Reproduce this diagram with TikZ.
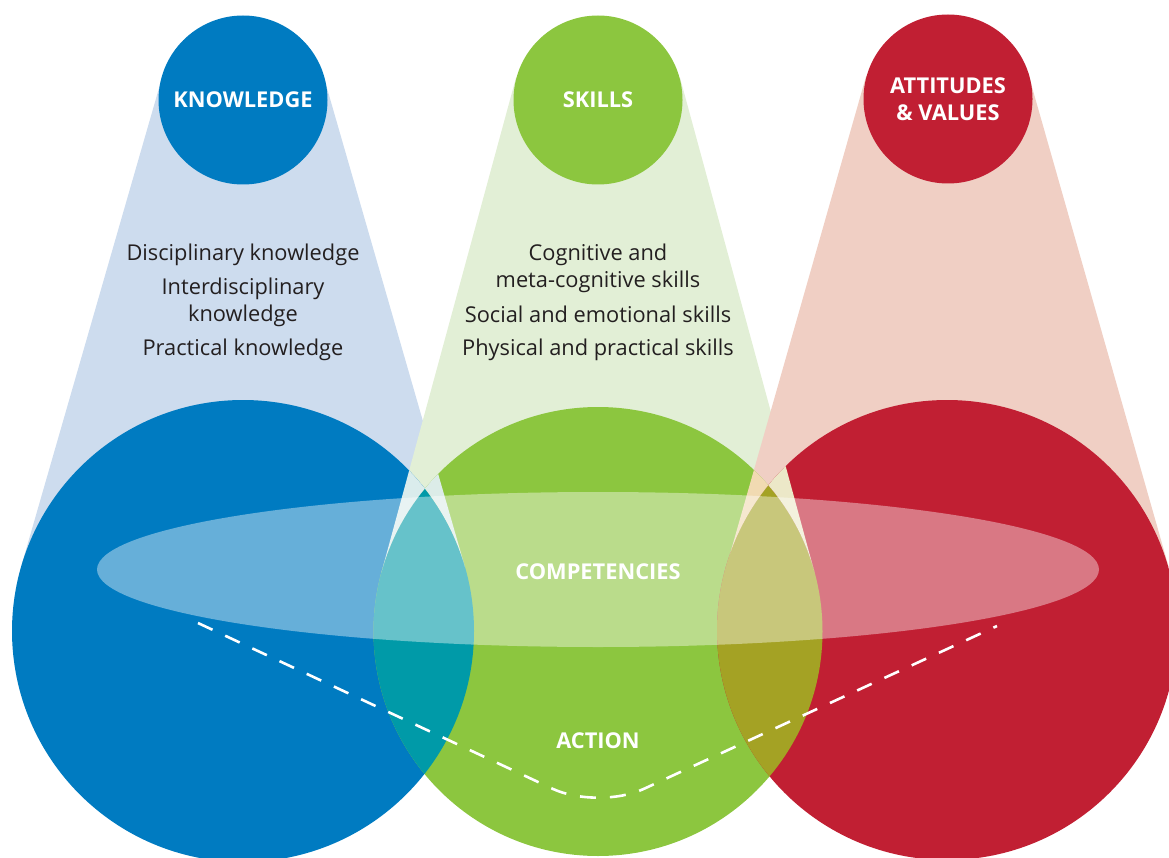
\documentclass[tikz,border=0pt]{standalone}
\usepackage{fontspec}
\setmainfont{Open Sans}
\definecolor{kblue}{RGB}{0,123,193}
\definecolor{sgreen}{RGB}{140,198,63}
\definecolor{avred}{RGB}{193,31,51}
\definecolor{kbluelt}{RGB}{205,220,238}
\definecolor{sgreenlt}{RGB}{226,239,214}
\definecolor{avredlt}{RGB}{240,207,196}
\definecolor{teal}{RGB}{0,154,168}
\definecolor{olive}{RGB}{164,162,36}
\definecolor{kons}{RGB}{220,236,232}
\definecolor{sonk}{RGB}{218,236,236}
\definecolor{sonav}{RGB}{236,232,200}
\definecolor{avons}{RGB}{241,218,178}
\definecolor{textgray}{RGB}{35,31,32}

\begin{document}
\begin{tikzpicture}[x=1pt,y=1pt,
  head/.style={text=white,font=\bfseries\fontsize{21.8}{27}\selectfont,align=center},
  item/.style={text=textgray,font=\fontsize{21.8}{27}\selectfont,align=center},
  small/.style={circle,minimum size=169,inner sep=0pt,head},
  outside/.style={insert path={(-10,10) -- (1180,10) -- (1180,-870) -- (-10,-870) -- cycle}}]
\useasboundingbox (0,0) rectangle (1169,-858);
\clip (0,0) rectangle (1169,-858);

\coordinate (kc) at (243,-631);
\coordinate (sc) at (598,-631.5);
\coordinate (avc) at (947,-630);

\fill[kbluelt] (162.3,-76.7) -- (323.7,-76.7) -- (465,-567.1) -- (21,-567.1) -- cycle;
\fill[sgreenlt] (516,-77.7) -- (680,-77.7) -- (814.6,-572.6) -- (381.4,-572.6) -- cycle;
\fill[avredlt] (866.2,-75.8) -- (1028.8,-75.8) -- (1168.7,-567) -- (726.3,-567) -- cycle;

\fill[kblue] (kc) circle (231);
\fill[sgreen] (sc) circle (224.5);
\fill[avred] (avc) circle (230);
\begin{scope}
  \clip (kc) circle (231);
  \fill[teal] (sc) circle (224.5);
\end{scope}
\begin{scope}
  \clip (avc) circle (230);
  \fill[olive] (sc) circle (224.5);
\end{scope}

\begin{scope}
  \clip (162.3,-76.7) -- (323.7,-76.7) -- (465,-567.1) -- (21,-567.1) -- cycle;
  \clip[outside] (kc) circle (231);
  \fill[kons] (sc) circle (224.5);
\end{scope}
\begin{scope}
  \clip (516,-77.7) -- (680,-77.7) -- (814.6,-572.6) -- (381.4,-572.6) -- cycle;
  \clip[outside] (sc) circle (224.5);
  \fill[sonk] (kc) circle (231);
  \fill[sonav] (avc) circle (230);
\end{scope}
\begin{scope}
  \clip (866.2,-75.8) -- (1028.8,-75.8) -- (1168.7,-567) -- (726.3,-567) -- cycle;
  \clip[outside] (avc) circle (230);
  \fill[avons] (sc) circle (224.5);
\end{scope}

\node[small,fill=kblue] (knowledge) at (243,-100) {\raisebox{-1.5pt}{KNOWLEDGE}};
\node[small,fill=sgreen] (skills) at (598,-100) {\raisebox{-1.5pt}{SKILLS}};
\node[small,fill=avred] (values) at (948,-99) {\raisebox{-1.5pt}{ATTITUDES}\\\raisebox{-1.5pt}{\& VALUES}};

\fill[white,fill opacity=.4] (598,-569.5) ellipse (501 and 77.5);

\draw[white,line width=2.6,dash pattern=on 16 off 14,rounded corners=50]
  (198,-623) -- (598,-810) -- (997,-626);

\node[item] (disc) at (243,-255) {Disciplinary knowledge};
\node[item] (inter) at (243,-302.5) {Interdisciplinary\\knowledge};
\node[item] (prac) at (243,-350) {Practical knowledge};
\node[item] (cogn) at (598,-268.5) {Cognitive and\\meta-cognitive skills};
\node[item] (social) at (598,-314) {Social and emotional skills};
\node[item] (phys) at (598,-350) {Physical and practical skills};

\node[head] (comp) at (598,-572) {COMPETENCIES};
\node[head] (action) at (598,-741) {ACTION};
\end{tikzpicture}
\end{document}
